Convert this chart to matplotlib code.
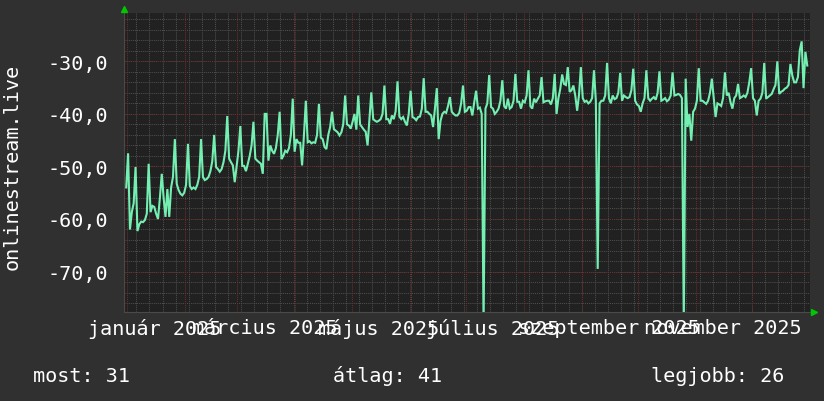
import matplotlib
matplotlib.use("Agg")
import matplotlib.pyplot as plt
import matplotlib.dates as mdates
from matplotlib.lines import Line2D
import pandas as pd
import numpy as np

# ---------------- data ----------------
first_sample = "2024-12-31 14:00"   # one sample per day
values = [
    -54.0, -47.5, -62.0, -58.7, -57.0, -50.1,
    -62.3, -61.0, -60.5, -60.6, -60.2, -59.0, -49.5,
    -58.7, -57.5, -57.7, -59.0, -60.0, -56.0, -51.4,
    -56.0, -59.6, -54.3, -59.6, -54.0, -52.0, -44.8,
    -53.3, -54.5, -55.2, -55.5, -55.0, -53.5, -45.7,
    -53.7, -54.3, -54.0, -54.3, -53.5, -52.0, -44.8,
    -52.0, -52.6, -52.4, -52.0, -50.9, -49.0, -44.0,
    -50.1, -50.5, -51.0, -50.5, -49.2, -47.0, -40.4,
    -48.5, -49.2, -49.8, -53.0, -50.0, -47.0, -42.3,
    -49.9, -49.9, -50.9, -49.5, -48.0, -46.0, -41.5,
    -48.5, -48.9, -49.2, -49.5, -51.4, -40.0, -40.0,
    -48.9, -46.0, -47.0, -47.6, -46.5, -44.0, -39.6,
    -48.6, -48.0, -47.0, -47.3, -46.5, -44.0, -37.1,
    -47.2, -44.8, -45.5, -45.5, -49.8, -44.0, -37.5,
    -45.4, -45.2, -45.6, -45.4, -45.5, -44.0, -38.1,
    -44.5, -44.8, -46.3, -46.7, -44.0, -42.5, -39.6,
    -42.9, -43.2, -43.5, -44.1, -43.5, -42.0, -36.5,
    -42.0, -42.2, -42.8, -41.5, -40.0, -43.0, -36.5,
    -42.0, -42.5, -43.0, -43.4, -46.0, -41.0, -35.9,
    -41.0, -41.3, -41.5, -41.3, -41.0, -40.0, -34.6,
    -41.0, -41.0, -41.9, -40.3, -41.0, -39.5, -33.8,
    -40.5, -41.0, -40.6, -41.5, -42.2, -40.0, -35.6,
    -40.6, -40.8, -41.2, -40.6, -40.5, -39.0, -33.2,
    -39.6, -39.6, -40.0, -40.3, -42.5, -39.0, -35.1,
    -44.8, -41.3, -40.0, -39.6, -39.8, -38.5, -36.8,
    -39.6, -40.0, -40.3, -40.3, -39.8, -38.0, -34.6,
    -39.6, -39.4, -38.7, -38.7, -40.3, -37.8, -35.6,
    -39.0, -38.8, -40.0, -80.0, -39.0, -38.0, -32.6,
    -38.7, -39.0, -40.0, -39.6, -39.0, -37.5, -33.6,
    -38.5, -39.0, -37.1, -39.0, -38.7, -37.5, -32.4,
    -37.7, -37.7, -39.0, -37.5, -37.8, -36.5, -31.7,
    -38.5, -39.0, -37.1, -37.8, -37.1, -36.5, -33.0,
    -37.8, -37.6, -37.5, -37.5, -38.2, -37.0, -32.4,
    -40.0, -37.0, -35.2, -32.5, -34.3, -34.5, -31.1,
    -35.8, -35.5, -34.6, -36.5, -39.4, -36.4, -31.1,
    -37.0, -37.7, -37.5, -38.0, -37.7, -37.0, -31.7,
    -37.5, -69.5, -38.0, -37.5, -37.5, -36.5, -30.3,
    -37.0, -38.0, -36.5, -37.2, -37.0, -36.0, -32.2,
    -37.5, -36.5, -36.8, -37.0, -36.8, -35.5, -31.4,
    -37.5, -38.2, -38.5, -39.6, -38.0, -37.0, -31.7,
    -37.0, -37.5, -37.1, -36.8, -37.3, -36.0, -31.9,
    -37.5, -37.3, -37.0, -37.6, -37.3, -36.5, -32.1,
    -36.5, -36.4, -36.2, -36.4, -37.0, -80.0, -33.3,
    -42.5, -40.0, -45.1, -39.6, -39.0, -37.5, -31.3,
    -37.5, -37.5, -37.8, -38.1, -37.5, -36.0, -33.3,
    -37.0, -40.6, -38.0, -38.2, -38.5, -37.0, -32.1,
    -36.5, -36.0, -37.8, -39.0, -37.0, -36.5, -34.3,
    -37.0, -36.8, -36.5, -36.8, -36.0, -34.0, -31.3,
    -37.0, -37.5, -40.3, -37.5, -37.1, -36.0, -30.3,
    -37.1, -36.8, -36.5, -36.2, -35.3, -34.5, -30.0,
    -36.2, -35.8, -35.6, -35.2, -35.0, -34.5, -30.5,
    -32.7, -34.0, -34.0, -33.0, -27.9, -26.2, -35.1,
    -28.2, -30.8,
]

month_label_names = ["január 2025", "március 2025", "május 2025",
                     "július 2025", "szeptember 2025", "november 2025"]
month_label_starts = ["2025-01-01", "2025-03-01", "2025-05-01",
                      "2025-07-01", "2025-09-01", "2025-11-01"]
y_ticks = [-70, -60, -50, -40, -30]
y_tick_labels = ["-70,0", "-60,0", "-50,0", "-40,0", "-30,0"]
y_label = "onlinestream.live"
legend_texts = ["most: 31", "átlag: 41", "legjobb: 26"]

# ---------------- style ----------------
FIG_BG = "#303030"
AX_BG = "#212121"
LINE_C = "#74efb2"
MINOR_C = "#4e4e4e"
MAJOR_C = "#6e2c2c"
TEXT_C = "#ffffff"
ARROW_C = "#00c800"
FONT = "DejaVu Sans Mono"
FS = 14.5

W, H = 824, 402
fig = plt.figure(figsize=(W / 100, H / 100), dpi=100, facecolor=FIG_BG)
L, R, T, B = 124, 810, 14, 313
ax = fig.add_axes([L / W, 1 - B / H, (R - L) / W, (B - T) / H], facecolor=AX_BG)

dates = pd.date_range(first_sample, periods=len(values), freq="D")
x0 = pd.Timestamp("2024-12-30 09:40")
x1 = pd.Timestamp("2026-01-01 01:00")
ax.set_xlim(x0, x1)
ax.set_ylim(-77.7, -20.8)

dotted = (0, (1, 1))
# minor grid
for yv in np.arange(-76, -20, 2):
    ax.axhline(yv, color=MINOR_C, lw=0.75, ls=dotted, zorder=1)
for d in pd.date_range("2025-01-06", "2025-12-31", freq="7D"):
    ax.axvline(d, color=MINOR_C, lw=0.75, ls=dotted, zorder=1)
# major grid
for yv in y_ticks:
    ax.axhline(yv, color=MAJOR_C, lw=0.75, ls=dotted, zorder=2)
for d in pd.date_range("2025-01-01", "2026-01-01", freq="MS"):
    ax.axvline(d, color=MAJOR_C, lw=0.75, ls=dotted, zorder=2)

ax.plot(dates, values, color=LINE_C, lw=1.5, zorder=3, solid_joinstyle="miter")

# axes decorations
for s in ["top", "right"]:
    ax.spines[s].set_visible(False)
for s in ["left", "bottom"]:
    ax.spines[s].set_color("#4a4a4a")
    ax.spines[s].set_linewidth(0.8)

ax.set_yticks(y_ticks)
ax.set_yticklabels(y_tick_labels, fontfamily=FONT, fontsize=FS, color=TEXT_C)
label_pos = [pd.Timestamp(s) + pd.Timedelta(days=14.7) for s in month_label_starts]
ax.set_xticks(label_pos)
ax.set_xticklabels(month_label_names, fontfamily=FONT, fontsize=FS, color=TEXT_C)
ax.tick_params(axis="y", length=0, pad=11.5)
ax.tick_params(axis="x", length=0, pad=4)

fig.text(12 / W, 1 - 167 / H, y_label, rotation=90, ha="center", va="center",
         fontfamily=FONT, fontsize=FS, color=TEXT_C)

legend_x = [33, 333, 651]
for txt, lx in zip(legend_texts, legend_x):
    fig.text(lx / W, 1 - 382 / H, txt, ha="left", va="baseline",
             fontfamily=FONT, fontsize=FS, color=TEXT_C)

# rrdtool-like arrows
fig.add_artist(Line2D([L / W], [1 - 10 / H], marker="^", markersize=5,
                      color=ARROW_C, transform=fig.transFigure, ls="none"))
fig.add_artist(Line2D([(R + 4) / W], [1 - B / H], marker=">", markersize=5,
                      color=ARROW_C, transform=fig.transFigure, ls="none"))

fig.savefig("out.png", dpi=100, facecolor=FIG_BG)
